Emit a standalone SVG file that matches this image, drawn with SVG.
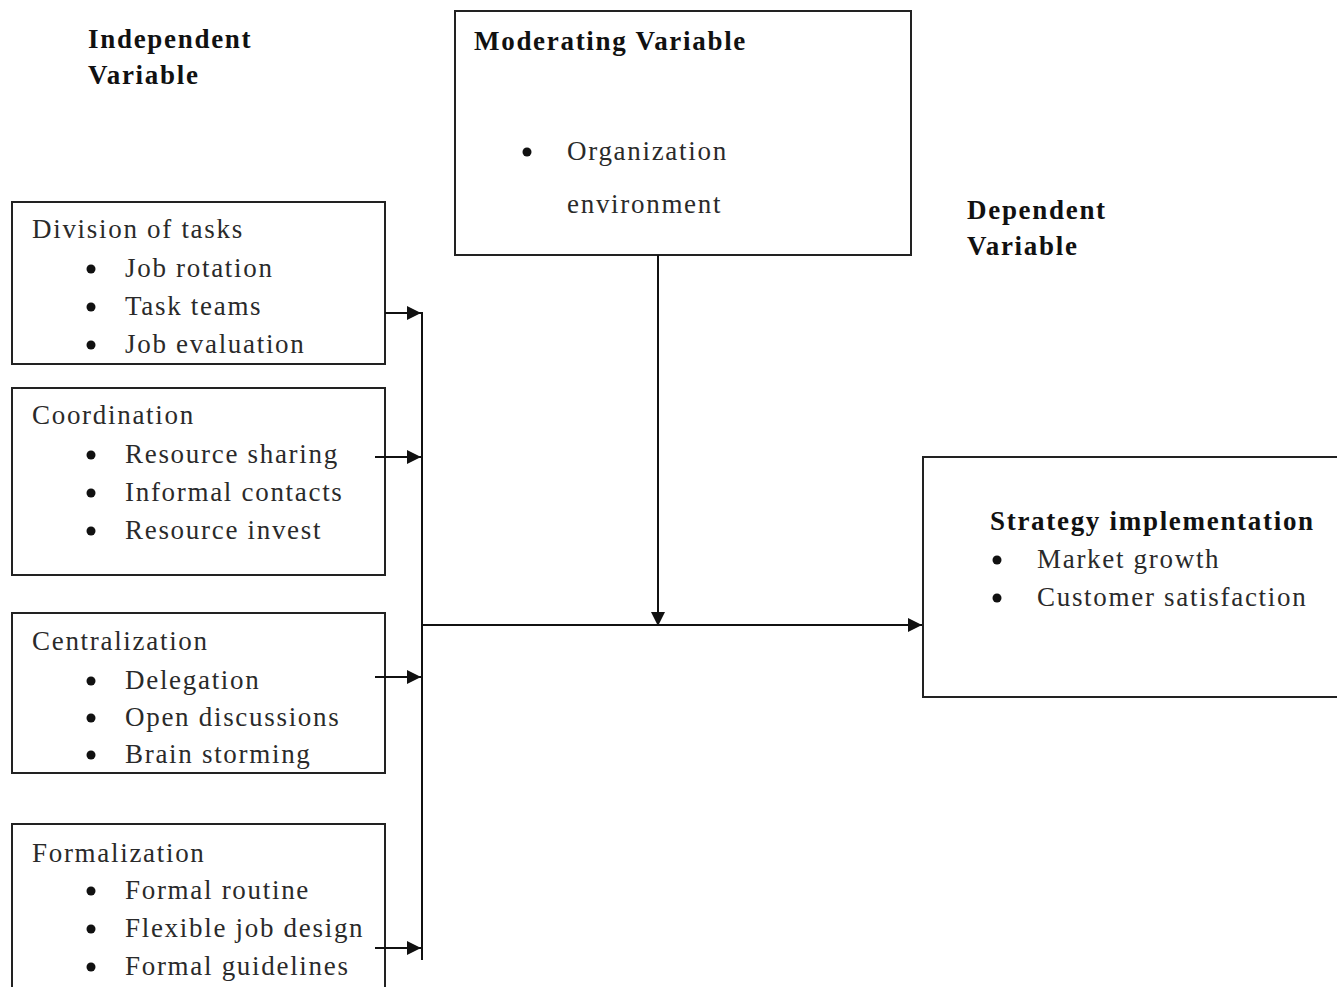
<svg xmlns="http://www.w3.org/2000/svg" width="1337" height="987" viewBox="0 0 1337 987">
<style>
text{font-family:"Liberation Serif","Times New Roman",serif;font-size:27px;letter-spacing:1.7px;fill:#2a2a2a}
.b{font-weight:bold;fill:#111}
.box{fill:#fff;stroke:#222;stroke-width:2}
.ln{stroke:#111;stroke-width:2;fill:none}
.dot{fill:#111}
</style>
<defs>
<marker id="ah" viewBox="0 0 10 10" refX="10" refY="5" markerWidth="14" markerHeight="14" markerUnits="userSpaceOnUse" orient="auto">
<path d="M0,0 L10,5 L0,10 z" fill="#111"/>
</marker>
</defs>
<rect width="1337" height="987" fill="#fff"/>
<g id="label-independent">
<text class="b" x="88" y="48">Independent</text>
<text class="b" x="88" y="84">Variable</text>
</g>
<g id="label-dependent">
<text class="b" x="967" y="219">Dependent</text>
<text class="b" x="967" y="255">Variable</text>
</g>
<g id="node-moderating">
<rect class="box" x="455" y="11" width="456" height="244"/>
<text class="b" x="474" y="50">Moderating Variable</text>
<circle class="dot" cx="527" cy="152" r="4.5"/>
<text x="567" y="160">Organization</text>
<text x="567" y="213">environment</text>
</g>
<g id="node-division">
<rect class="box" x="12" y="202" width="373" height="162"/>
<text x="32" y="238">Division of tasks</text>
<circle class="dot" cx="91" cy="269" r="4.5"/><text x="125" y="277">Job rotation</text>
<circle class="dot" cx="91" cy="307" r="4.5"/><text x="125" y="315">Task teams</text>
<circle class="dot" cx="91" cy="345" r="4.5"/><text x="125" y="353">Job evaluation</text>
</g>
<g id="node-coordination">
<rect class="box" x="12" y="388" width="373" height="187"/>
<text x="32" y="424">Coordination</text>
<circle class="dot" cx="91" cy="455" r="4.5"/><text x="125" y="463">Resource sharing</text>
<circle class="dot" cx="91" cy="493" r="4.5"/><text x="125" y="501">Informal contacts</text>
<circle class="dot" cx="91" cy="531" r="4.5"/><text x="125" y="539">Resource invest</text>
</g>
<g id="node-centralization">
<rect class="box" x="12" y="613" width="373" height="160"/>
<text x="32" y="650">Centralization</text>
<circle class="dot" cx="91" cy="681" r="4.5"/><text x="125" y="689">Delegation</text>
<circle class="dot" cx="91" cy="718" r="4.5"/><text x="125" y="726">Open discussions</text>
<circle class="dot" cx="91" cy="755" r="4.5"/><text x="125" y="763">Brain storming</text>
</g>
<g id="node-formalization">
<rect class="box" x="12" y="824" width="373" height="175"/>
<text x="32" y="862">Formalization</text>
<circle class="dot" cx="91" cy="891" r="4.5"/><text x="125" y="899">Formal routine</text>
<circle class="dot" cx="91" cy="929" r="4.5"/><text x="125" y="937">Flexible job design</text>
<circle class="dot" cx="91" cy="967" r="4.5"/><text x="125" y="975">Formal guidelines</text>
</g>
<g id="node-strategy">
<rect class="box" x="923" y="457" width="430" height="240"/>
<text class="b" x="990" y="530">Strategy implementation</text>
<circle class="dot" cx="997" cy="560" r="4.5"/><text x="1037" y="568">Market  growth</text>
<circle class="dot" cx="997" cy="598" r="4.5"/><text x="1037" y="606">Customer satisfaction</text>
</g>
<g id="connectors">
<line class="ln" x1="422" y1="312" x2="422" y2="960"/>
<line class="ln" x1="385" y1="313" x2="421" y2="313" marker-end="url(#ah)"/>
<line class="ln" x1="375" y1="457" x2="421" y2="457" marker-end="url(#ah)"/>
<line class="ln" x1="375" y1="677" x2="421" y2="677" marker-end="url(#ah)"/>
<line class="ln" x1="375" y1="948" x2="421" y2="948" marker-end="url(#ah)"/>
<line class="ln" x1="422" y1="625" x2="922" y2="625" marker-end="url(#ah)"/>
<line class="ln" x1="658" y1="255" x2="658" y2="626" marker-end="url(#ah)"/>
</g>
</svg>
